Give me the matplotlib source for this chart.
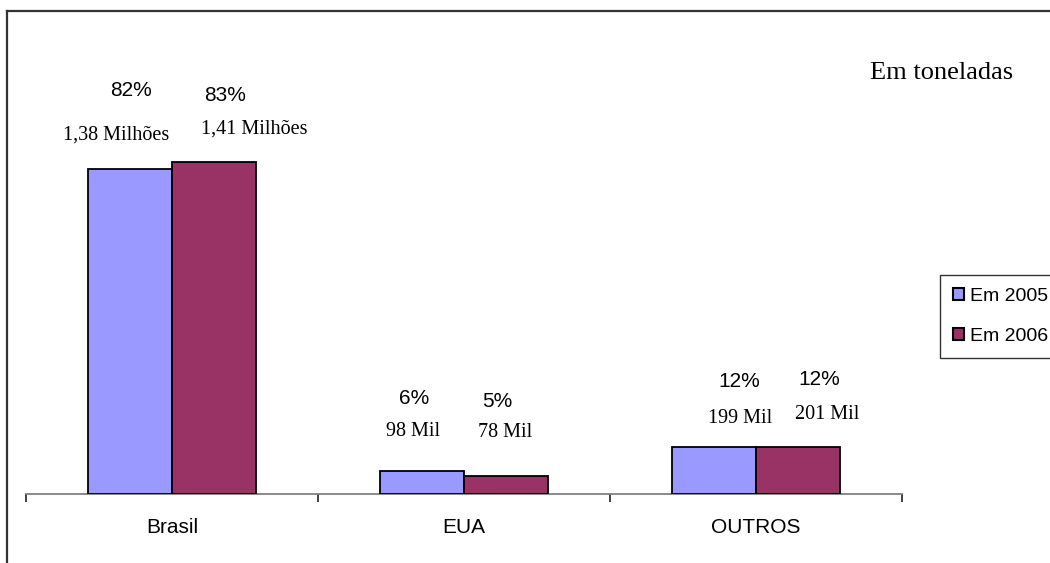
import matplotlib
matplotlib.use("Agg")
import matplotlib.pyplot as plt
import numpy as np
from matplotlib.lines import Line2D

# Data (tonnes)
categories = ["Brasil", "EUA", "OUTROS"]
series_names = ["Em 2005", "Em 2006"]
values_2005 = [1380000, 98000, 199000]
values_2006 = [1410000, 78000, 201000]
pct_2005 = ["82%", "6%", "12%"]
pct_2006 = ["83%", "5%", "12%"]
amount_2005 = ["1,38 Milhões", "98 Mil", "199 Mil"]
amount_2006 = ["1,41 Milhões", "78 Mil", "201 Mil"]

colors = ["#9999FF", "#993366"]

W, H, DPI = 1050, 563, 100
fig = plt.figure(figsize=(W / DPI, H / DPI), dpi=DPI)
fig.patch.set_facecolor("white")

# plot area in pixels
left_px, right_px, bottom_px, top_px = 26, 902, 494, 40
ax = fig.add_axes([left_px / W, (H - bottom_px) / H,
                   (right_px - left_px) / W, (bottom_px - top_px) / H])

x = np.arange(len(categories))
bw = 0.2877
bars05 = ax.bar(x - bw / 2, values_2005, bw, color=colors[0], edgecolor="black",
                linewidth=1.3, label=series_names[0], zorder=3)
bars06 = ax.bar(x + bw / 2, values_2006, bw, color=colors[1], edgecolor="black",
                linewidth=1.3, label=series_names[1], zorder=3)

ax.set_xlim(-0.5, len(categories) - 0.5)
ax.set_ylim(0, 1.93e6)

for s in ["top", "right", "left"]:
    ax.spines[s].set_visible(False)
ax.spines["bottom"].set_color("#808080")
ax.spines["bottom"].set_linewidth(1.3)
ax.set_yticks([])

ax.set_xticks(x)
ax.set_xticklabels(categories, fontsize=15, fontfamily="Liberation Sans")
ax.tick_params(axis="x", which="major", length=0, pad=17)
ax.set_xticks(np.arange(-0.5, len(categories)), minor=True)
ax.tick_params(axis="x", which="minor", length=6, width=1.2, color="#202020",
               direction="out")

# label offsets from each bar top (dx, dy) in pixels
pct_off_05 = [(1, 79), (-8, 72), (25, 66)]
amt_off_05 = [(-14, 34), (-9, 39), (26, 29)]
pct_off_06 = [(11, 67), (-9, 74), (21, 67)]
amt_off_06 = [(40, 33), (-1, 43), (29, 32)]

def put_labels(bars, pcts, amts, poff, aoff):
    for b, p, a, po, ao in zip(bars, pcts, amts, poff, aoff):
        cx = b.get_x() + b.get_width() / 2
        top = b.get_height()
        ax.annotate(p, (cx, top), xytext=po, textcoords="offset pixels",
                    ha="center", va="center", fontsize=15,
                    fontfamily="Liberation Sans", annotation_clip=False)
        ax.annotate(a, (cx, top), xytext=ao, textcoords="offset pixels",
                    ha="center", va="center", fontsize=14.5,
                    fontfamily="Liberation Serif", annotation_clip=False)

put_labels(bars05, pct_2005, amount_2005, pct_off_05, amt_off_05)
put_labels(bars06, pct_2006, amount_2006, pct_off_06, amt_off_06)

fig.text(942 / W, 1 - 73 / H, "Em toneladas", ha="center", va="center",
         fontsize=19, fontfamily="Liberation Serif")

leg = fig.legend(handles=[bars05, bars06], labels=series_names,
                 loc="upper left", bbox_to_anchor=(940 / W, 1 - 275 / H),
                 frameon=True, fancybox=False, edgecolor="#333333",
                 prop={"family": "Liberation Sans", "size": 14},
                 handlelength=0.56, handleheight=0.56, handletextpad=0.35,
                 borderpad=0.65, labelspacing=1.2, borderaxespad=0,
                 framealpha=1)
leg.get_frame().set_linewidth(1.0)
for h in leg.legend_handles:
    h.set_linewidth(1.5)

# outer chart border (left and top edges)
bx, by = 6.5 / W, 1 - 11 / H
fig.add_artist(Line2D([bx, bx], [0, by], transform=fig.transFigure,
                      color="#333333", linewidth=1.6))
fig.add_artist(Line2D([bx, 1], [by, by], transform=fig.transFigure,
                      color="#333333", linewidth=1.6))

fig.savefig("out.png", dpi=DPI)
